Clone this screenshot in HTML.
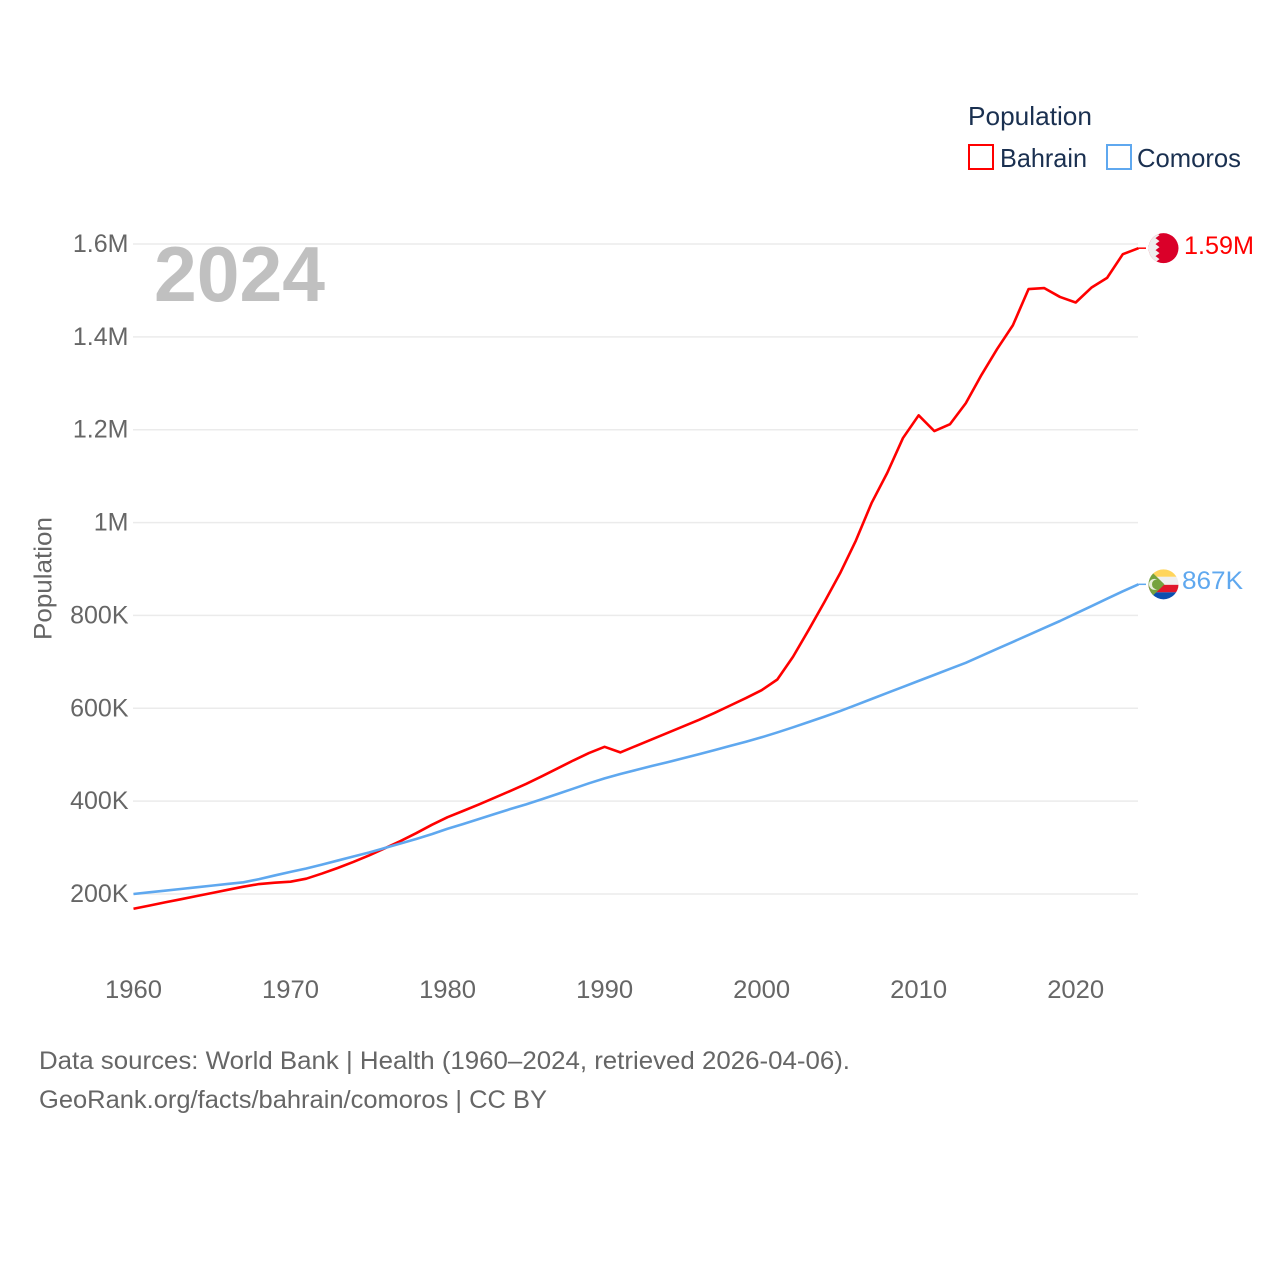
<!DOCTYPE html>
<html lang="en">
<head>
<meta charset="utf-8">
<title>Population: Bahrain and Comoros</title>
<style>
html,body{margin:0;padding:0;background:#fff;width:1280px;height:1280px;overflow:hidden}
svg{display:block}
text{font-family:"Liberation Sans",sans-serif}
</style>
</head>
<body>
<svg id="chart" xmlns="http://www.w3.org/2000/svg" width="1280" height="1280" viewBox="0 0 1280 1280">
  <rect width="1280" height="1280" fill="#fff"/>
  <g id="grid"></g>
  <g id="yticks"></g>
  <g id="xticks"></g>
  <text transform="translate(51.5,640) rotate(-90)" font-size="25" fill="#666" textLength="123" lengthAdjust="spacingAndGlyphs">Population</text>
  <text x="154" y="301" font-size="78" font-weight="700" fill="#c0c0c0" textLength="171" lengthAdjust="spacingAndGlyphs">2024</text>

  <g id="series"></g>

  <defs>
    <clipPath id="clip-bh"><circle cx="0" cy="0" r="15"/></clipPath>
    <clipPath id="clip-km"><circle cx="0" cy="0" r="15"/></clipPath>
  </defs>
  <g id="flag-bahrain" clip-path="url(#clip-bh)">
    <rect x="-15" y="-16" width="30" height="32" fill="#da0029"/>
    <polygon fill="#efefef" points="-15,-16 -8,-16 -4,-13 -8,-10 -4,-7 -8,-4 -4,-1 -8,2 -4,5 -8,8 -4,11 -8,14 -5,16 -15,16"/>
  </g>
  <g id="flag-comoros" clip-path="url(#clip-km)">
    <rect x="-15" y="-15.5" width="30" height="8" fill="#ffd55c"/>
    <rect x="-15" y="-7.5" width="30" height="8" fill="#efefef"/>
    <rect x="-15" y="0.5" width="30" height="7.5" fill="#e0162b"/>
    <rect x="-15" y="8" width="30" height="8" fill="#0a4fb0"/>
    <polygon fill="#75a23f" points="-15,-15.5 -15,15.5 1,0"/>
    <circle cx="-9" cy="0" r="5.5" fill="#e8eedc"/>
    <circle cx="-6.5" cy="0" r="5" fill="#75a23f"/>
  </g>

  <text id="label-bahrain" x="1184" y="254" font-size="25" fill="#ff0000" textLength="70" lengthAdjust="spacingAndGlyphs">1.59M</text>
  <text id="label-comoros" x="1182" y="589" font-size="25" fill="#5fa8ef" textLength="61" lengthAdjust="spacingAndGlyphs">867K</text>

  <g>
    <text x="968" y="125" font-size="26" fill="#1a3050" textLength="124" lengthAdjust="spacingAndGlyphs">Population</text>
    <g>
      <rect x="969" y="145" width="24" height="24" fill="#fff" stroke="#ff0000" stroke-width="2"/>
      <text x="1000" y="167" font-size="26" fill="#1a3050" textLength="87" lengthAdjust="spacingAndGlyphs">Bahrain</text>
    </g>
    <g>
      <rect x="1107" y="145" width="24" height="24" fill="#fff" stroke="#5fa8ef" stroke-width="2"/>
      <text x="1137" y="167" font-size="26" fill="#1a3050" textLength="104" lengthAdjust="spacingAndGlyphs">Comoros</text>
    </g>
  </g>

  <text x="39" y="1069" font-size="25" fill="#666" textLength="811" lengthAdjust="spacingAndGlyphs">Data sources: World Bank | Health (1960–2024, retrieved 2026-04-06).</text>
  <text x="39" y="1108" font-size="25" fill="#666" textLength="508" lengthAdjust="spacingAndGlyphs">GeoRank.org/facts/bahrain/comoros | CC BY</text>
</svg>

<script>
// Chart data (thousands of people)
const firstYear = 1960;
const xTickYears = [1960, 1970, 1980, 1990, 2000, 2010, 2020];
const yTickValues = [200, 400, 600, 800, 1000, 1200, 1400, 1600];
const yTickLabels = ['200K', '400K', '600K', '800K', '1M', '1.2M', '1.4M', '1.6M'];
const bahrain = [168.3,175,181.9,188.6,195.4,202.2,209,215.7,221.5,224.3,226.5,233,244,256,269,283,298.4,314,331,349,365.5,379,393,407.5,422,437,453.5,470.5,487.5,503.5,517,505,519,533,547,561,575,590,606,622,639,662,711,769,829,891,961,1042,1107,1182,1231,1197,1212,1257,1318,1374,1425,1503,1505,1486,1474,1506,1527,1578,1591];
const comoros = [200,203.6,207.2,210.8,214.4,218,221.6,225.2,232,240,247.6,255,263.3,272,280.8,289.4,299,308.8,318.5,329,340.6,350.8,361.5,372.3,383,393,404,415.4,426.8,438.4,449,458.5,467,475.7,483.7,492.3,501,510,519,528,537.5,548,559,570.5,582,594,607,620,633,646,659,672,685,698,713,728,743,758,773,788,804,820,836,852,867];

// Axis functions
function xScale(year) { return 133.5 + (year - 1960) * (1138.5 - 133.5) / 64; }
function yScale(v) { return 894 - (v - 200) * 650 / 1400; }

const NS = 'http://www.w3.org/2000/svg';
function make(tag, attrs) {
  const el = document.createElementNS(NS, tag);
  for (const k in attrs) el.setAttribute(k, attrs[k]);
  return el;
}

const gridG = document.getElementById('grid');
const yG = document.getElementById('yticks');
yTickValues.forEach(function (v, i) {
  const line = make('line', {x1: 133, x2: 1138, y1: yScale(v), y2: yScale(v), stroke: '#ebebeb', 'stroke-width': 1.5});
  
  
  gridG.appendChild(line);
  const t = make('text', {x: 128.5, y: yScale(v) + 8, 'text-anchor': 'end', 'font-size': 25, fill: '#666'});
  
  
  t.textContent = yTickLabels[i];
  yG.appendChild(t);
});

const xG = document.getElementById('xticks');
xTickYears.forEach(function (yr) {
  const t = make('text', {x: xScale(yr), y: 998, 'text-anchor': 'middle', 'font-size': 25, fill: '#666', textLength: 57, lengthAdjust: 'spacingAndGlyphs'});
  
  
  t.textContent = yr;
  xG.appendChild(t);
});

function drawSeries(values, color, name) {
  const g = document.getElementById('series');
  const pts = values.map(function (v, i) { return xScale(firstYear + i).toFixed(2) + ',' + yScale(v).toFixed(2); });
  const lastY = yScale(values[values.length - 1]).toFixed(2);
  const line = make('polyline', {points: pts.join(' '), fill: 'none', stroke: color, 'stroke-width': 2.6, 'stroke-linejoin': 'round'});
  
  
  g.appendChild(line);
  const stub = make('line', {x1: xScale(firstYear + values.length - 1), x2: 1146, y1: lastY, y2: lastY, stroke: color, 'stroke-width': 1.5});
  
  
  g.appendChild(stub);
}
drawSeries(bahrain, '#ff0000', 'bahrain-line');
drawSeries(comoros, '#5fa8ef', 'comoros-line');

document.getElementById('flag-bahrain').setAttribute('transform', 'translate(1163.5,' + yScale(bahrain[bahrain.length - 1]) + ')');
document.getElementById('flag-comoros').setAttribute('transform', 'translate(1163.5,' + yScale(comoros[comoros.length - 1]) + ')');
</script>
</body>
</html>
